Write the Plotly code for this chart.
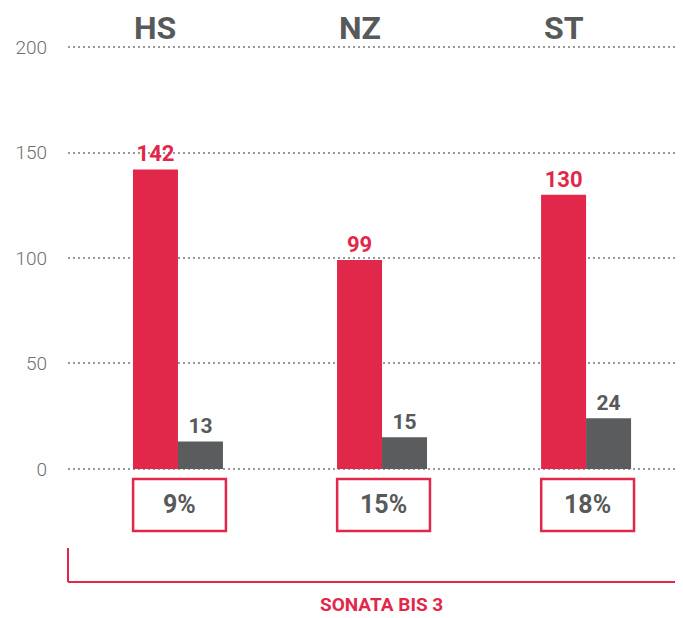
import plotly.graph_objects as go

categories = ["HS", "NZ", "ST"]
red_values = [142, 99, 130]
grey_values = [13, 15, 24]
pct_labels = ["9%", "15%", "18%"]
y_ticks = [0, 50, 100, 150, 200]
group_title = "SONATA BIS 3"

RED = "#e1284a"
GREY = "#5b5c5e"
TXT = "#58595b"
FONT = "Roboto"

idx = list(range(len(categories)))
bargap = 0.559
off = (1 - bargap) / 4

fig = go.Figure()
fig.add_trace(go.Bar(
    x=idx, y=red_values, marker_color=RED, marker_line_width=0,
    text=[str(v) for v in red_values], textposition="outside",
    textfont=dict(family=FONT, size=22, color=RED, weight=700),
    cliponaxis=False, hoverinfo="skip"))
fig.add_trace(go.Bar(
    x=idx, y=grey_values, marker_color=GREY, marker_line_width=0,
    text=[str(v) for v in grey_values], textposition="outside",
    textfont=dict(family=FONT, size=21, color=TXT, weight=700),
    cliponaxis=False, hoverinfo="skip"))

shapes = []
annotations = []
for i, (c, p) in enumerate(zip(categories, pct_labels)):
    annotations.append(dict(x=i - off, y=1.04, xref="x", yref="paper", text=c,
                            yanchor="middle", xanchor="center",
                            showarrow=False, font=dict(family=FONT, size=32, color=TXT, weight=700)))
    shapes.append(dict(type="rect", xref="x", yref="paper", x0=i - 0.22, x1=i + 0.235,
                       y0=-0.1408, y1=-0.0188, line=dict(color=RED, width=2.5),
                       fillcolor="white", layer="above"))
    annotations.append(dict(x=i + 0.007, y=-0.0798, xref="x", yref="paper", text=p,
                            yanchor="middle", xanchor="center",
                            showarrow=False, font=dict(family=FONT, size=25, color=TXT, weight=700)))

shapes.append(dict(type="line", xref="paper", yref="paper", x0=0, x1=0, y0=-0.1808, y1=-0.2606,
                   line=dict(color=RED, width=2)))
shapes.append(dict(type="line", xref="paper", yref="paper", x0=0, x1=1.02, y0=-0.2606, y1=-0.2606,
                   line=dict(color=RED, width=2)))
annotations.append(dict(x=0.509, y=-0.3125, xref="paper", yref="paper", text=group_title,
                        yanchor="middle", xanchor="center", borderpad=0,
                        showarrow=False, font=dict(family=FONT, size=19, color=RED, weight=700)))

fig.update_layout(
    width=675, height=610,
    margin=dict(l=60, r=0, t=37, b=147),
    plot_bgcolor="white", paper_bgcolor="white",
    showlegend=False, barmode="group", bargap=bargap, bargroupgap=0,
    shapes=shapes, annotations=annotations,
    xaxis=dict(range=[-0.539, 2.475], showticklabels=False, showgrid=False,
               zeroline=False, showline=False, fixedrange=True),
    yaxis=dict(range=[-1, 201], tickvals=y_ticks, showgrid=True, gridcolor="#9a9a9a",
               gridwidth=2, griddash="2px,3px", zeroline=False, showline=False,
               ticks="", ticklabelstandoff=20,
               tickfont=dict(family=FONT, size=19, color="#6d6e70", weight=300)),
)

fig.write_html("out.html")
